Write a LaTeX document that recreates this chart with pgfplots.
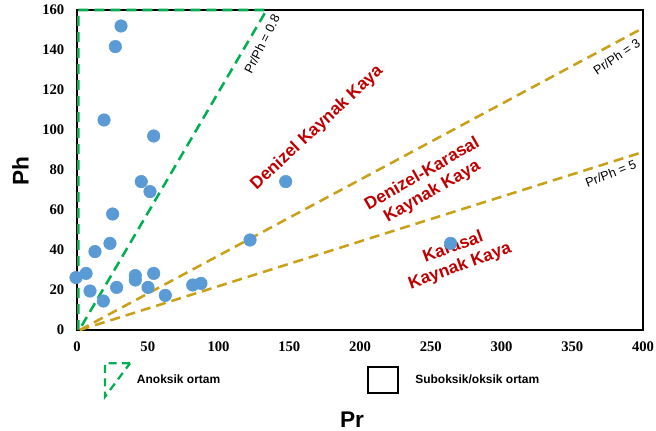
\documentclass[border=0pt]{standalone}
\usepackage{fontspec}
\setmainfont{Liberation Serif}
\newfontfamily\arial{Liberation Sans}
\usepackage{pgfplots}
\pgfplotsset{compat=1.18}
\definecolor{ptblue}{RGB}{91,155,213}
\definecolor{lgold}{RGB}{201,160,24}
\definecolor{lgreen}{RGB}{0,176,80}
\definecolor{tred}{RGB}{192,0,0}
\begin{document}
\begin{tikzpicture}
\begin{axis}[
  scale only axis,
  width=424.5pt, height=240pt,
  xmin=0, xmax=400, ymin=0, ymax=160,
  xtick={0,50,...,400}, ytick={0,20,...,160},
  major tick length=0pt,
  axis line style={line width=1.5pt, black},
  tick label style={font=\fontsize{11}{13}\selectfont\bfseries},
  /pgf/number format/assume math mode=true,
  xticklabel style={yshift=-5.5pt},
  yticklabel style={xshift=-6pt},
  clip=false,
  xlabel={\arial\bfseries\fontsize{17}{20}\selectfont Pr},
  ylabel={\arial\bfseries\fontsize{17}{20}\selectfont Ph},
  xlabel style={at={(axis description cs:0.486,-0.28)}, anchor=center},
  ylabel style={at={(axis description cs:-0.1,0.497)}, anchor=center},
]
% reference lines
\addplot[lgreen, line width=1.9pt, dash pattern=on 7.5pt off 4.5pt]
  coordinates {(1,0) (1,160) (134,160) (1.6,0)};
\addplot[lgold, line width=1.9pt, dash pattern=on 7.5pt off 4.5pt]
  coordinates {(2,0) (400,151)};
\addplot[lgold, line width=1.9pt, dash pattern=on 7.5pt off 4.5pt]
  coordinates {(2,0) (400,89)};
% data
\addplot[only marks, mark=*, mark size=4.7pt, color=ptblue, mark options={draw=ptblue, fill=ptblue}]
  coordinates {
  (31.1,152) (27.1,141.7) (19.1,105) (54.2,97) (45.4,74.2) (51.6,69.2)
  (25.2,58) (23.3,43.3) (12.7,39.2) (-0.7,26.2) (6.4,28.3) (9.2,19.5)
  (18.6,14.5) (28,21.3) (41.2,27.2) (41.2,25) (54.2,28.3) (50.2,21.3)
  (62.4,17.3) (81.8,22.5) (87.6,23.3) (122.3,45) (147.5,74.2) (264,43.3)
  };
% text
\node[rotate=63, font=\arial\fontsize{9.5}{11}\selectfont] at (axis cs:130.7,143) {Pr/Ph = 0.8};
\node[rotate=34, font=\arial\fontsize{9.5}{11}\selectfont] at (axis cs:381.4,136.7) {Pr/Ph = 3};
\node[rotate=21, font=\arial\fontsize{9.5}{11}\selectfont] at (axis cs:377.2,78.3) {Pr/Ph = 5};
\node[rotate=43, text=tred, font=\arial\bfseries\fontsize{13}{15}\selectfont] at (axis cs:169.6,101) {Denizel Kaynak Kaya};
\node[rotate=30, text=tred, align=center, font=\arial\bfseries\fontsize{13}{15}\selectfont] at (axis cs:247.6,73.5) {Denizel-Karasal\\Kaynak Kaya};
\node[rotate=20, text=tred, align=center, font=\arial\bfseries\fontsize{13}{15}\selectfont] at (axis cs:268.3,36.5) {Karasal\\Kaynak Kaya};
\end{axis}
% legend
\draw[lgreen, line width=1.7pt, dash pattern=on 6pt off 4pt] (39.75pt,-25pt) -- (21pt,-25pt) -- (21pt,-50pt) -- cycle;
\node[anchor=west, inner sep=0pt, font=\arial\bfseries\fontsize{9}{11}\selectfont] at (44.75pt,-36.75pt) {Anoksik ortam};
\draw[black, line width=1.5pt] (218.5pt,-27.5pt) rectangle (241pt,-47.5pt);
\node[anchor=west, inner sep=0pt, font=\arial\bfseries\fontsize{9}{11}\selectfont] at (253.5pt,-36.75pt) {Suboksik/oksik ortam};
\pgfresetboundingbox
\path (-57.75pt,-75.75pt) rectangle (434.25pt,247.5pt);
\end{tikzpicture}
\end{document}
